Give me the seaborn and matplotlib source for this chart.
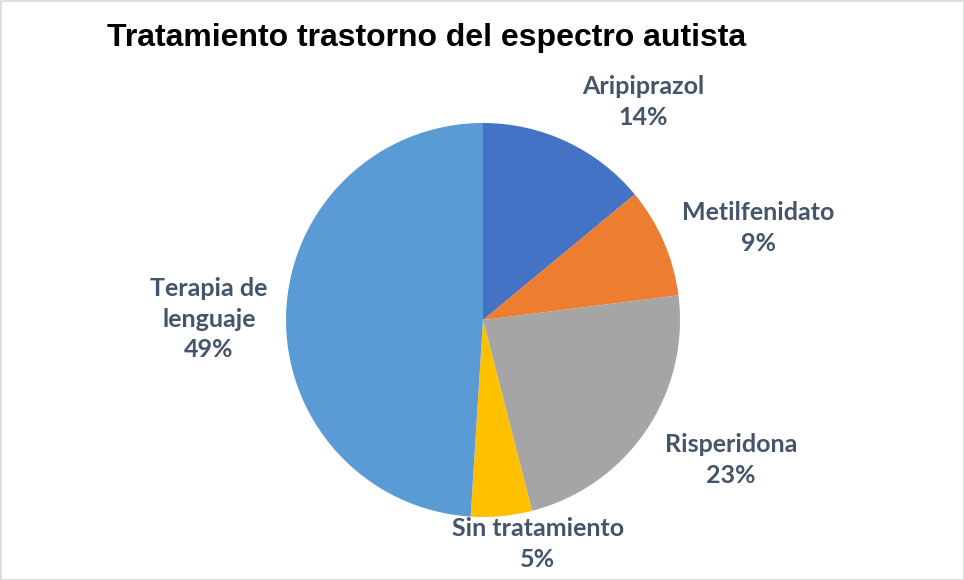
import matplotlib
matplotlib.use("Agg")
import matplotlib.pyplot as plt
import seaborn as sns
from matplotlib.patches import Rectangle

categories = ["Aripiprazol", "Metilfenidato", "Risperidona", "Sin tratamiento", "Terapia de\nlenguaje"]
values = [14, 9, 23, 5, 49]
title = "Tratamiento trastorno del espectro autista"

colors = ["#4472C4", "#ED7D31", "#A5A5A5", "#FFC000", "#5B9BD5"]
label_pos = [(0.812, 1.107), (1.396, 0.467), (1.259, -0.711), (0.279, -1.137), (-1.391, 0.005)]

sns.set_theme(style="white")
plt.rcParams['font.family'] = ['Lato', 'DejaVu Sans']

W, H = 964, 580
fig = plt.figure(figsize=(W / 100, H / 100), dpi=100)
cx, cy, r = 483, 320, 197
ax = fig.add_axes([(cx - r) / W, (H - cy - r) / H, 2 * r / W, 2 * r / H])
ax.pie(values, colors=colors, startangle=90, counterclock=False,
       wedgeprops=dict(linewidth=0), radius=1)
ax.set_xlim(-1, 1)
ax.set_ylim(-1, 1)
ax.set_aspect("equal")
ax.axis("off")

for cat, v, (x, y) in zip(categories, values, label_pos):
    ax.text(x, y, f"{cat}\n{v}%", ha="center", va="center", fontsize=18,
            fontweight="bold", color="#44546A", linespacing=1.4, clip_on=False)

fig.text(107 / W, 1 - 38 / H, title, ha="left", va="center", fontsize=23,
         fontweight="bold", color="black", family=["Liberation Sans", "DejaVu Sans"])

fig.patches.append(Rectangle((0.5 / W, 0.5 / H), 1 - 1 / W, 1 - 1 / H, transform=fig.transFigure,
                             fill=False, edgecolor="#D9D9D9", linewidth=1.2))

fig.savefig("out.png", dpi=100)
